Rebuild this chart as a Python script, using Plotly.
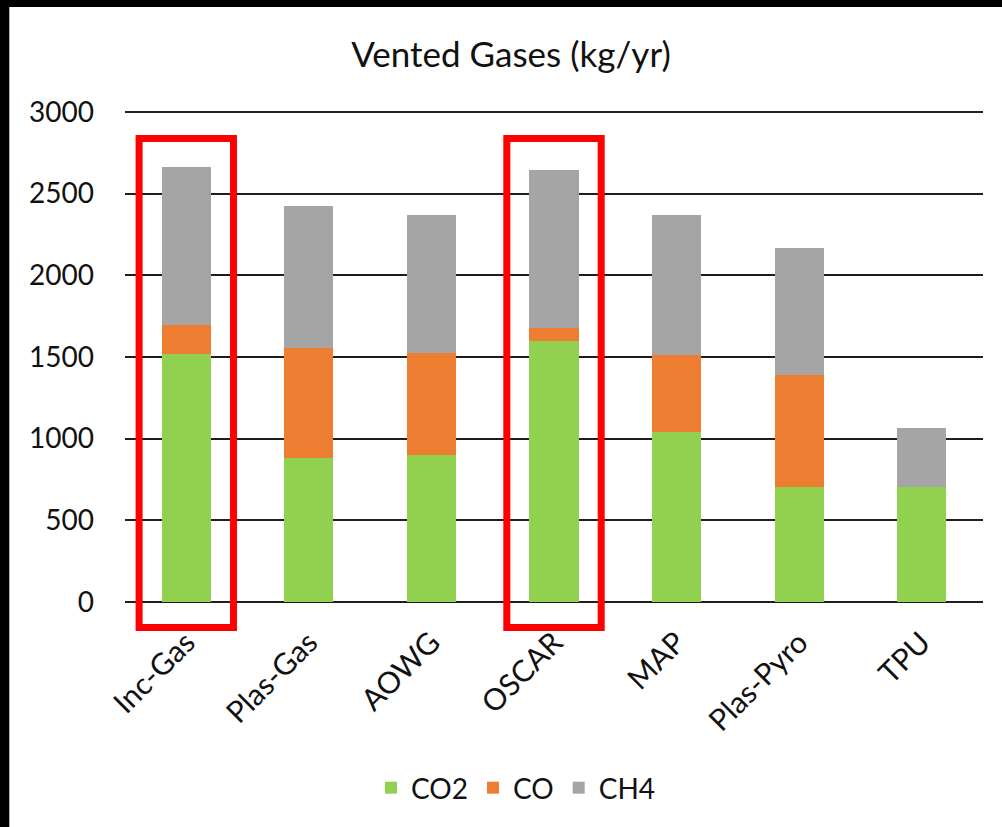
import plotly.graph_objects as go

categories = ["Inc-Gas", "Plas-Gas", "AOWG", "OSCAR", "MAP", "Plas-Pyro", "TPU"]
co2 = [1518, 879, 898, 1596, 1043, 707, 707]
co = [178, 674, 625, 80, 469, 682, 0]
ch4 = [970, 869, 848, 971, 859, 777, 359]
y_ticks = [0, 500, 1000, 1500, 2000, 2500, 3000]
highlighted = ["Inc-Gas", "OSCAR"]

title_text = "Vented Gases (kg/yr)"
series_names = ["CO2", "CO", "CH4"]
series_colors = ["#92D050", "#ED7D31", "#A5A5A5"]

FONT = "Lato, 'DejaVu Sans', sans-serif"

W, H = 1002, 827
ml, mr, mt, mb = 125, 19, 110, 225
pw, ph = W - ml - mr, H - mt - mb
y_top = 3000 + 2 * 3000 / 490  # keeps the 3000 gridline inside the plot area

fig = go.Figure()
for name, vals, col in zip(series_names, [co2, co, ch4], series_colors):
    fig.add_trace(go.Bar(
        x=categories, y=vals, name=name,
        marker=dict(color=col, line=dict(width=0)),
    ))

def px_x(px):
    return (px - ml) / pw

def px_y(py):
    return (H - mb - py) / ph

shapes = []
# white panel over black frame
shapes.append(dict(type="rect", xref="paper", yref="paper", layer="below",
                   x0=px_x(9), x1=px_x(W + 20), y0=px_y(H + 20), y1=px_y(7),
                   fillcolor="white", line=dict(width=0)))
shapes.append(dict(type="line", xref="paper", yref="paper", layer="below",
                   x0=px_x(9.5), x1=px_x(9.5), y0=px_y(H + 20), y1=px_y(7),
                   line=dict(color="#b0b0b0", width=1)))
# red highlight boxes
n = len(categories)
for cat in highlighted:
    i = categories.index(cat)
    shapes.append(dict(type="rect", xref="paper", yref="paper", layer="above",
                       x0=(i + 0.5 - 0.385) / n, x1=(i + 0.5 + 0.385) / n,
                       y0=px_y(627.5), y1=px_y(138.5),
                       fillcolor="rgba(0,0,0,0)", line=dict(color="#FF0000", width=7)))

fig.update_layout(
    width=W, height=H,
    margin=dict(l=ml, r=mr, t=mt, b=mb, pad=0),
    paper_bgcolor="black",
    plot_bgcolor="rgba(0,0,0,0)",
    barmode="stack",
    bargap=0.6,
    font=dict(family=FONT, size=28, color="#111111"),
    title=dict(text=title_text, x=0.51, xref="container", xanchor="center",
               y=1 - 55 / H, yref="container", yanchor="middle",
               font=dict(family=FONT, size=35, color="#111111")),
    xaxis=dict(tickangle=-45, showgrid=False, showline=False, zeroline=False,
               ticks="", ticklabelstandoff=16, tickfont=dict(size=30)),
    yaxis=dict(range=[0, y_top], tickvals=y_ticks, showgrid=True,
               gridcolor="#1e1e1e", gridwidth=2, zeroline=True,
               zerolinecolor="#1e1e1e", zerolinewidth=2, showline=False,
               ticks="", ticklabelstandoff=30, tickfont=dict(size=28)),
    showlegend=True,
    legend=dict(orientation="h", x=px_x(516), xanchor="center",
                y=px_y(788), yanchor="middle", bgcolor="rgba(0,0,0,0)",
                font=dict(size=28), traceorder="normal", itemwidth=30),
    shapes=shapes,
)

fig.write_html(
    "out.html",
    config={"displayModeBar": False},
    post_script="document.body.style.margin='0';document.body.style.background='black';",
)
